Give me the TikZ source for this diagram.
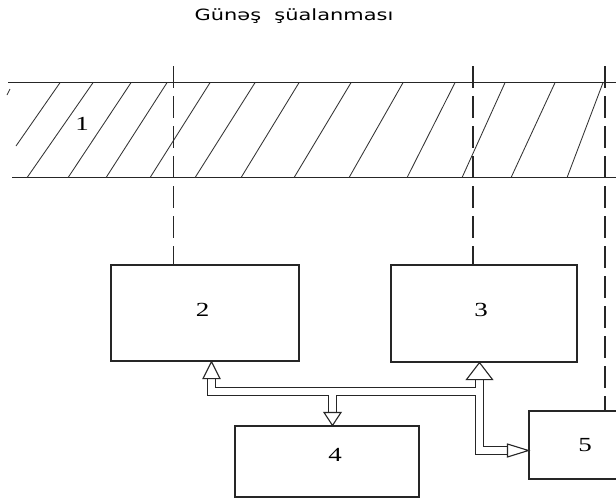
\documentclass[tikz,border=0pt]{standalone}
\usepackage{fontspec}
\usepackage{graphicx}
\setmainfont{Liberation Serif}
\newfontfamily\titlefont{DejaVu Sans}
\usetikzlibrary{calc}
\begin{document}
\begin{tikzpicture}[x=1pt,y=-1pt,
  edge/.style={line width=1.1pt, black!85},
  hatchline/.style={line width=0.85pt, black!80},
  blk/.style={draw=black!85, line width=1.1pt, fill=white, inner sep=0pt},
  guide/.style={line width=1.1pt, black!85, dash pattern=on 22pt off 8pt},
  numlbl/.style={font=\fontsize{20}{20}\selectfont, anchor=base, inner sep=0pt},
  busout/.style={line width=9.5pt, black!85, line join=miter},
  busin/.style={line width=7.3pt, white, line join=miter},
  head/.style={draw=black!85, line width=1.1pt, fill=white, line join=miter}
]
\clip (0,0) rectangle (616,498);
\fill[white] (0,0) rectangle (616,498);

% heading
\node[anchor=base, inner sep=0pt, font=\titlefont\fontsize{15.5}{16}\selectfont] (title) at (294,20.7)
  {\scalebox{1.35}[1]{Günəş\ \ şüalanması}};

% hatched layer
\draw[edge] (8,82.7) -- (616,82.7);
\draw[edge] (12,177.7) -- (616,177.7);
\foreach \bx/\tx in {27/93, 68/131, 106/167, 150/210, 195/255, 241/299,
                     294/351, 349/403, 407/455, 462/505, 511/555, 567/603}
  \draw[hatchline] (\bx,177.7) -- (\tx,82.7);
\draw[hatchline] (16,146) -- (60,82.7);
\draw[hatchline] (7,95) -- (10,89);
\node[numlbl] (l1) at (82,130) {\scalebox{1.35}[1]{1}};

% blocks
\node[blk, minimum width=188pt, minimum height=96pt] (b2) at (205,313) {};
\node[blk, minimum width=186pt, minimum height=97pt] (b3) at (484,313.5) {};
\node[blk, minimum width=184pt, minimum height=71pt] (b4) at (327,461.5) {};
\node[blk, minimum width=112pt, minimum height=68pt] (b5) at (585,445) {};
\node[numlbl] (l2) at (202.5,316) {\scalebox{1.35}[1]{2}};
\node[numlbl] (l3) at (481,316) {\scalebox{1.35}[1]{3}};
\node[numlbl] (l4) at (335,461) {\scalebox{1.35}[1]{4}};
\node[numlbl] (l5) at (585,451) {\scalebox{1.35}[1]{5}};

% radiation paths
\coordinate (g2) at (173.5,66);
\coordinate (g3) at (473,66);
\coordinate (g5) at (605,66);
\draw[guide] (g2) -- (g2 |- b2.north);
\draw[guide] (g3) -- (g3 |- b3.north);
\draw[guide] (g5) -- (g5 |- b5.north);

% hollow bus
\coordinate (t2) at ($(b2.south)+(6.5,0)$);
\coordinate (t3) at ($(b3.south)+(-4.5,0)$);
\coordinate (t4) at ($(b4.north)+(5.5,0)$);
\coordinate (t5) at ($(b5.west)+(0,5.5)$);
\coordinate (h2b) at ($(t2)+(0,17)$);
\coordinate (h3b) at ($(t3)+(0,17)$);
\coordinate (h4b) at ($(t4)+(0,-13)$);
\coordinate (h5b) at ($(t5)+(-21,0)$);
\coordinate (j2) at ($(t2)+(0,30)$);
\coordinate (j3) at (t3 |- j2);
\coordinate (j4) at (t4 |- j2);
\coordinate (k3) at (t3 |- t5);

\draw[busout] (h2b) -- (j2) -- (j3);
\draw[busout] (h3b) -- (k3) -- (h5b);
\draw[busout] (j4) -- (h4b);
\draw[busin] (h2b) -- (j2) -- (j3);
\draw[busin] (h3b) -- (k3) -- (h5b);
\draw[busin] (j4) -- (h4b);

\draw[head] (t2) -- ($(h2b)+(-8.5,0)$) -- ($(h2b)+(8.5,0)$) -- cycle;
\draw[head] (t3) -- ($(h3b)+(-13,0)$) -- ($(h3b)+(13,0)$) -- cycle;
\draw[head] (t4) -- ($(h4b)+(-8.5,0)$) -- ($(h4b)+(8.5,0)$) -- cycle;
\draw[head] (t5) -- ($(h5b)+(0,-6.5)$) -- ($(h5b)+(0,6.5)$) -- cycle;
\end{tikzpicture}
\end{document}
